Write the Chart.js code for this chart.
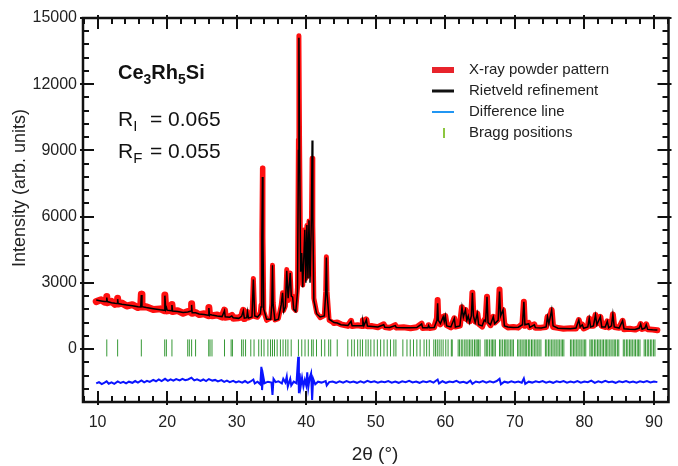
<!DOCTYPE html>
<html>
<head>
<meta charset="utf-8">
<script src="https://cdn.jsdelivr.net/npm/chart.js@4.4.1/dist/chart.umd.min.js"></script>
<style>
  html, body { margin: 0; padding: 0; background: #fff; }
</style>
</head>
<body>
<canvas id="myChart" width="678" height="466"></canvas>
<script>
// 2-theta grid of the measured / calculated pattern
let twoTheta = [
  9.8, 10.5, 11.0, 11.25, 11.32, 11.4, 12.0, 12.5, 12.8, 12.88,
  12.96, 13.5, 14.2, 15.0, 15.8, 16.2, 16.29, 16.38, 17.0, 18.0,
  19.0, 19.55, 19.67, 19.8, 19.9, 20.0, 20.6, 20.69, 20.78, 21.5,
  22.3, 22.96, 23.2, 23.45, 23.52, 23.6, 24.09, 24.6, 25.3, 25.9,
  26.0, 26.1, 26.17, 26.45, 27.2, 27.9, 28.25, 28.35, 29.0, 29.3,
  29.5, 30.3, 30.71, 30.95, 31.1, 31.45, 31.55, 31.7, 32.2, 32.4,
  32.6, 33.0, 33.4, 33.5, 33.62, 33.7, 33.78, 33.9, 34.3, 34.9,
  35.05, 35.15, 35.25, 35.5, 36.0, 36.4, 36.6, 36.75, 37.0, 37.2,
  37.4, 37.7, 37.85, 38.05, 38.2, 38.5, 38.75, 38.88, 38.95, 39.05,
  39.2, 39.35, 39.5, 39.8, 39.95, 40.1, 40.25, 40.4, 40.55, 40.75,
  40.85, 40.95, 41.1, 41.5, 42.0, 42.6, 42.8, 42.9, 43.0, 43.3,
  44.0, 44.46, 45.0, 46.0, 46.45, 46.6, 47.4, 48.05, 48.15, 48.3,
  48.65, 48.8, 49.5, 50.3, 51.15, 51.3, 52.0, 52.8, 52.95, 54.0,
  55.0, 55.9, 56.6, 56.75, 57.5, 57.6, 57.75, 58.4, 58.8, 58.9,
  59.0, 59.3, 59.7, 59.85, 60.0, 60.2, 60.8, 61.3, 61.45, 62.1,
  62.4, 62.6, 62.9, 63.1, 63.3, 63.5, 63.75, 63.9, 64.05, 64.3,
  64.6, 64.8, 65.3, 65.6, 65.8, 66.0, 66.15, 66.5, 66.9, 67.1,
  67.6, 67.8, 67.95, 68.3, 68.5, 69.0, 69.8, 70.5, 71.1, 71.3,
  71.45, 72.0, 72.15, 72.8, 72.95, 73.8, 74.5, 74.7, 74.9, 75.3,
  75.5, 76.2, 77.0, 78.0, 78.8, 79.2, 79.4, 79.7, 79.9, 80.5,
  80.7, 80.9, 81.3, 81.6, 81.8, 82.3, 82.5, 83.0, 83.3, 83.5,
  83.9, 84.1, 84.3, 85.0, 85.5, 85.7, 86.5, 87.3, 87.9, 88.1,
  88.3, 88.7, 88.9, 89.1, 89.8, 90.5
];
// X-ray powder pattern (observed)
let observed = [
  2150, 2230, 2120, 2150, 2380, 2100, 2160, 2020, 2070, 2300,
  2040, 2080, 1950, 2010, 1880, 1940, 2480, 1900, 1920, 1790,
  1820, 1740, 2450, 1830, 1900, 1730, 1760, 2020, 1700, 1740,
  1620, 1700, 1690, 1730, 2050, 1620, 1660, 1560, 1600, 1510,
  1880, 1540, 1570, 1510, 1540, 1450, 1760, 1440, 1470, 1520,
  1400, 1420, 1460, 1750, 1380, 1400, 1700, 1410, 1480, 3200,
  1470, 1440, 1650, 2000, 5200, 8200, 5100, 1700, 1300, 1400,
  2050, 3800, 2100, 1320, 1380, 1980, 2550, 1750, 1950, 3600,
  2200, 3450, 2300, 2400, 1850, 1750, 2800, 9500, 14200, 9200,
  3700, 4350, 2900, 5400, 3200, 5600, 3300, 5800, 3400, 5800,
  8650, 5600, 2300, 1650, 1420, 1520, 2600, 4180, 2600, 1300,
  1180, 1200, 1120, 1050, 1280, 1040, 1080, 1040, 1300, 1050,
  1340, 1030, 1040, 990, 1120, 1000, 960, 1080, 970, 990,
  940, 990, 1150, 950, 970, 1080, 950, 990, 1400, 2220,
  1350, 1120, 1460, 1250, 1500, 1080, 980, 1390, 1020, 1060,
  1890, 1400, 1770, 1350, 1500, 1250, 1550, 2550, 1450, 1250,
  1620, 1150, 1020, 1310, 1300, 2370, 1250, 1080, 1460, 1200,
  1350, 2700, 1550, 1770, 1100, 980, 1000, 970, 1150, 2140,
  1050, 1180, 990, 1120, 960, 970, 1000, 1460, 1200, 1770,
  1000, 960, 920, 940, 930, 1310, 1050, 1100, 930, 1020,
  1390, 1050, 1050, 1540, 1150, 1460, 1050, 1000, 1250, 980,
  1050, 1570, 1000, 960, 1280, 900, 920, 880, 960, 1130,
  910, 950, 1120, 900, 880, 850
];
// Rietveld refinement (calculated)
let calculated = [
  2220, 2180, 2150, 2150, 2330, 2150, 2100, 2070, 2060, 2260,
  2060, 2030, 2000, 1960, 1920, 1910, 2450, 1920, 1880, 1830,
  1780, 1760, 2420, 1800, 1880, 1760, 1730, 1990, 1720, 1700,
  1660, 1680, 1700, 1720, 2000, 1640, 1640, 1590, 1560, 1530,
  1860, 1530, 1560, 1540, 1500, 1470, 1740, 1460, 1440, 1500,
  1420, 1390, 1480, 1730, 1400, 1420, 1690, 1400, 1450, 3150,
  1500, 1450, 1600, 1900, 5000, 7800, 4800, 1800, 1350, 1350,
  2000, 3800, 2000, 1300, 1350, 2000, 2550, 1700, 1900, 3550,
  2300, 3440, 2400, 2350, 1800, 1700, 2600, 9000, 14100, 9000,
  3500, 4350, 2800, 5400, 3000, 5620, 3200, 5840, 3000, 6000,
  9450, 6000, 2200, 1600, 1450, 1500, 2500, 4150, 2500, 1350,
  1200, 1180, 1100, 1070, 1260, 1060, 1060, 1050, 1280, 1060,
  1320, 1040, 1020, 1000, 1100, 990, 980, 1060, 980, 970,
  960, 970, 1130, 960, 960, 1060, 960, 970, 1300, 2070,
  1300, 1150, 1460, 1250, 1500, 1050, 1000, 1390, 1000, 1050,
  1890, 1450, 1770, 1300, 1500, 1200, 1500, 2550, 1500, 1200,
  1620, 1100, 1050, 1310, 1250, 2370, 1200, 1100, 1460, 1150,
  1300, 2600, 1500, 1770, 1050, 1000, 980, 990, 1100, 2140,
  1100, 1150, 980, 1100, 970, 950, 1000, 1460, 1150, 1770,
  1050, 940, 930, 920, 950, 1310, 1000, 1100, 940, 1000,
  1390, 1000, 1050, 1540, 1100, 1460, 1000, 1000, 1250, 960,
  1050, 1570, 1000, 950, 1280, 920, 900, 890, 950, 1130,
  900, 950, 1100, 890, 870, 860
];
// Difference line (shifted below zero)
let diffTheta = [
  9.8, 10.2, 10.6, 11.0, 11.3, 11.6, 12.0, 12.4, 12.9, 13.3,
  13.7, 14.1, 14.5, 15.0, 15.4, 15.8, 16.3, 16.7, 17.1, 17.5,
  18.0, 18.4, 18.8, 19.2, 19.7, 20.1, 20.5, 20.9, 21.3, 21.8,
  22.2, 22.6, 23.0, 23.5, 23.9, 24.3, 24.8, 25.2, 25.6, 26.0,
  26.5, 26.9, 27.3, 27.8, 28.2, 28.6, 29.0, 29.5, 29.9, 30.3,
  30.8, 31.2, 31.6, 32.0, 32.4, 32.6, 33.0, 33.4, 33.55, 33.65,
  33.8, 34.0, 34.5, 35.0, 35.15, 35.3, 35.6, 36.0, 36.5, 36.7,
  37.0, 37.2, 37.35, 37.7, 37.85, 38.2, 38.6, 38.85, 38.95, 39.05,
  39.2, 39.4, 39.6, 39.8, 40.0, 40.15, 40.3, 40.5, 40.7, 40.85,
  41.0, 41.3, 41.7, 42.2, 42.8, 42.95, 43.3, 43.8, 44.3, 44.8,
  45.3, 45.8, 46.3, 46.8, 47.3, 47.8, 48.3, 48.8, 49.3, 49.8,
  50.3, 50.8, 51.3, 51.8, 52.3, 52.8, 53.3, 53.8, 54.3, 54.8,
  55.3, 55.8, 56.3, 56.8, 57.3, 57.8, 58.3, 58.9, 59.1, 59.6,
  60.1, 60.6, 61.1, 61.6, 62.1, 62.6, 63.1, 63.6, 63.9, 64.4,
  64.9, 65.4, 65.9, 66.4, 66.9, 67.4, 67.8, 68.0, 68.5, 69.0,
  69.5, 70.0, 70.5, 71.0, 71.3, 71.5, 72.0, 72.5, 73.0, 73.5,
  74.0, 74.5, 75.0, 75.5, 76.0, 76.5, 77.0, 77.5, 78.0, 78.5,
  79.0, 79.5, 80.0, 80.5, 81.0, 81.5, 82.0, 82.5, 83.0, 83.5,
  84.0, 84.5, 85.0, 85.5, 86.0, 86.5, 87.0, 87.5, 88.0, 88.5,
  89.0, 89.5, 90.0, 90.5
];
let difference = [
  -1560, -1500, -1590, -1520, -1460, -1570, -1510, -1580, -1470, -1540,
  -1490, -1560, -1480, -1530, -1450, -1520, -1420, -1510, -1440, -1490,
  -1400, -1460, -1380, -1450, -1350, -1440, -1370, -1430, -1360, -1420,
  -1350, -1410, -1380, -1300, -1420, -1370, -1440, -1380, -1450, -1360,
  -1430, -1400, -1470, -1410, -1490, -1430, -1500, -1440, -1510, -1460,
  -1520, -1450, -1530, -1470, -1380, -1560, -1480, -1600, -800, -1860,
  -1200, -1550, -1480, -1520, -2080, -1350, -1500, -1460, -1560, -1350,
  -1520, -1250, -1700, -1350, -1650, -1480, -1550, -350, -2000, -1100,
  -1700, -1300, -1700, -1400, -1650, -1050, -1750, -1300, -1100, -2310,
  -1350, -1600, -1480, -1520, -1450, -1650, -1500, -1470, -1530, -1460,
  -1520, -1450, -1510, -1470, -1530, -1460, -1520, -1440, -1500, -1460,
  -1520, -1470, -1500, -1450, -1520, -1470, -1530, -1460, -1500, -1440,
  -1510, -1470, -1530, -1460, -1500, -1450, -1520, -1380, -1560, -1460,
  -1530, -1470, -1500, -1440, -1520, -1480, -1540, -1430, -1580, -1470,
  -1510, -1450, -1520, -1460, -1510, -1450, -1350, -1600, -1480, -1520,
  -1460, -1510, -1470, -1530, -1330, -1580, -1480, -1520, -1460, -1500,
  -1450, -1520, -1470, -1530, -1460, -1500, -1450, -1520, -1470, -1510,
  -1450, -1520, -1470, -1500, -1430, -1530, -1460, -1510, -1440, -1500,
  -1470, -1530, -1460, -1500, -1450, -1510, -1470, -1520, -1460, -1500,
  -1450, -1510, -1470, -1500
];
// Bragg positions
let braggTheta = [
  11.32, 12.88, 16.29, 19.65, 19.89, 20.69, 22.96, 23.19, 23.52, 24.09,
  25.98, 26.17, 26.45, 28.25, 29.2, 29.39, 30.71, 30.95, 31.28, 32.03,
  32.5, 33.17, 33.55, 33.93, 34.49, 34.87, 35.15, 35.44, 35.82, 36.29,
  36.67, 37.05, 37.37, 37.84, 38.88, 39.36, 39.83, 40.3, 40.78, 41.01,
  41.48, 42.19, 42.67, 43.23, 43.52, 44.46, 45.98, 46.54, 46.92, 47.4,
  47.77, 48.1, 48.58, 48.91, 49.29, 49.76, 50.23, 50.7, 51.18, 51.65,
  52.12, 52.6, 52.9, 53.9, 54.49, 54.96, 55.43, 55.91, 56.38, 56.95,
  57.32, 57.7, 58.35, 58.6, 58.85, 59.12, 59.4, 59.69, 60.07, 60.4,
  60.87, 61.0, 61.85, 62.05, 62.3, 62.52, 62.8, 63.0, 63.25, 63.47,
  63.7, 63.94, 64.2, 64.42, 64.6, 64.79, 65.0, 65.7, 65.9, 66.1,
  66.35, 66.6, 66.8, 67.0, 67.2, 67.8, 68.0, 68.25, 68.5, 68.7,
  68.9, 69.15, 69.4, 69.6, 69.8, 70.4, 70.6, 70.85, 71.05, 71.3,
  71.5, 71.7, 71.95, 72.15, 72.4, 72.6, 72.85, 73.05, 73.3, 73.5,
  73.75, 74.4, 74.6, 74.85, 75.05, 75.3, 75.5, 75.75, 75.95, 76.2,
  76.4, 76.65, 76.85, 77.05, 78.0, 78.2, 78.45, 78.65, 78.9, 79.1,
  79.35, 79.55, 79.8, 80.0, 80.2, 80.8, 81.0, 81.2, 81.45, 81.65,
  81.9, 82.1, 82.3, 82.55, 82.75, 83.0, 83.2, 83.4, 83.65, 83.85,
  84.1, 84.3, 84.5, 84.75, 84.95, 85.6, 85.8, 86.05, 86.25, 86.5,
  86.7, 86.9, 87.15, 87.35, 87.6, 87.8, 88.0, 88.6, 88.8, 89.05,
  89.25, 89.5, 89.7, 89.95, 90.15
];
let braggLevel = 50;

let xTicks = [10, 20, 30, 40, 50, 60, 70, 80, 90];
let yTicks = [0, 3000, 6000, 9000, 12000, 15000];

const FONT = '"Liberation Sans", Arial, Helvetica, sans-serif';

function pairs(xs, ys) {
  return xs.map((v, i) => ({ x: v, y: ys[i] }));
}

function drawRuns(ctx, x, y, runs) {
  // runs: [text, font, dy]
  for (const [t, f, dy] of runs) {
    ctx.font = f;
    ctx.fillText(t, x, y + dy);
    x += ctx.measureText(t).width;
  }
  return x;
}

const decorations = {
  id: 'decorations',
  afterDraw(chart) {
    const { ctx, chartArea: a } = chart;
    const sx = chart.scales.x, sy = chart.scales.y;
    ctx.save();

    // inside ticks on all four sides
    ctx.strokeStyle = '#111';
    ctx.lineWidth = 2;
    ctx.beginPath();
    for (let v = 8; v <= 92; v += 2) {
      const px = Math.round(sx.getPixelForValue(v));
      const major = v % 10 === 0;
      const len = major ? 11 : 6, out = major ? 3 : 0;
      ctx.moveTo(px, a.bottom + out); ctx.lineTo(px, a.bottom - len);
      ctx.moveTo(px, a.top - out); ctx.lineTo(px, a.top + len);
    }
    for (let v = -2400; v <= 15000; v += 600) {
      const py = Math.round(sy.getPixelForValue(v));
      const major = v % 3000 === 0;
      const len = major ? 11 : 6, out = major ? 3 : 0;
      ctx.moveTo(a.left - out, py); ctx.lineTo(a.left + len, py);
      ctx.moveTo(a.right + out, py); ctx.lineTo(a.right - len, py);
    }
    ctx.stroke();

    // frame
    ctx.lineWidth = 2.5;
    ctx.strokeRect(a.left, a.top, a.right - a.left, a.bottom - a.top);

    // axis titles
    ctx.fillStyle = '#222';
    ctx.textBaseline = 'middle';
    ctx.textAlign = 'center';
    ctx.font = '19px ' + FONT;
    ctx.fillText('2\u03B8 (\u00B0)', 375, 455);
    ctx.save();
    ctx.translate(20, 188);
    ctx.rotate(-Math.PI / 2);
    ctx.font = '18px ' + FONT;
    ctx.fillText('Intensity (arb. units)', 0, 0);
    ctx.restore();

    // legend
    ctx.textAlign = 'left';
    ctx.font = '15px ' + FONT;
    const lx = 432, tx = 469;
    const rows = [70, 91, 112, 133];
    ctx.fillStyle = '#e8232b';
    ctx.fillRect(lx, rows[0] - 3, 22, 6);
    ctx.strokeStyle = '#111';
    ctx.lineWidth = 3;
    ctx.beginPath(); ctx.moveTo(lx, rows[1]); ctx.lineTo(lx + 22, rows[1]); ctx.stroke();
    ctx.strokeStyle = '#2196f3';
    ctx.lineWidth = 2;
    ctx.beginPath(); ctx.moveTo(lx, rows[2]); ctx.lineTo(lx + 22, rows[2]); ctx.stroke();
    ctx.strokeStyle = '#8cc63f';
    ctx.lineWidth = 2;
    ctx.beginPath(); ctx.moveTo(lx + 12, rows[3] - 5); ctx.lineTo(lx + 12, rows[3] + 5); ctx.stroke();
    ctx.fillStyle = '#222';
    ['X-ray powder pattern', 'Rietveld refinement', 'Difference line', 'Bragg positions']
      .forEach((t, i) => ctx.fillText(t, tx, rows[i]));

    // compound and R factors
    ctx.textBaseline = 'alphabetic';
    ctx.fillStyle = '#111';
    const b = 'bold 20px ' + FONT, bs = 'bold 14px ' + FONT;
    drawRuns(ctx, 118, 79, [['Ce', b, 0], ['3', bs, 5], ['Rh', b, 0], ['5', bs, 5], ['Si', b, 0]]);
    const r = '21px ' + FONT, rs = '15px ' + FONT;
    drawRuns(ctx, 118, 126, [['R', r, 0], ['I', rs, 5]]);
    drawRuns(ctx, 150, 126, [['= 0.065', r, 0]]);
    drawRuns(ctx, 118, 158, [['R', r, 0], ['F', rs, 5]]);
    drawRuns(ctx, 150, 158, [['= 0.055', r, 0]]);

    ctx.restore();
  }
};

const ctx = document.getElementById('myChart');
const myChart = new Chart(ctx, {
  type: 'scatter',
  data: {
    datasets: [
      {
        label: 'Rietveld refinement',
        data: pairs(twoTheta, calculated),
        showLine: true,
        borderColor: '#000',
        borderWidth: 1.5,
        pointRadius: 0,
        order: 0
      },
      {
        label: 'X-ray powder pattern',
        data: pairs(twoTheta, observed),
        showLine: true,
        borderColor: '#ff1010',
        borderWidth: 5,
        borderJoinStyle: 'round',
        borderCapStyle: 'round',
        segment: {
          borderWidth: c => (c.p0.parsed.x < 31 ? 7 : c.p0.parsed.x < 44 ? 5 : 6)
        },
        pointRadius: 0,
        order: 1
      },
      {
        label: 'Difference line',
        data: pairs(diffTheta, difference),
        showLine: true,
        borderColor: '#0a14ff',
        borderWidth: 2,
        pointRadius: 0,
        order: 2
      },
      {
        label: 'Bragg positions',
        data: braggTheta.map(t => ({ x: t, y: braggLevel })),
        showLine: false,
        pointStyle: 'line',
        rotation: 90,
        pointRadius: 8.5,
        borderColor: 'rgba(20,135,20,0.85)',
        borderWidth: 1,
        order: 3
      }
    ]
  },
  options: {
    responsive: false,
    animation: false,
    layout: { padding: { top: 18, right: 1, left: 0, bottom: 0 } },
    plugins: { legend: { display: false }, tooltip: { enabled: false } },
    scales: {
      x: {
        type: 'linear',
        min: 7.9,
        max: 92.1,
        grid: { display: false, drawTicks: false },
        border: { display: false },
        afterBuildTicks: s => { s.ticks = xTicks.map(v => ({ value: v })); },
        afterFit: s => { s.height = 64; },
        ticks: { padding: 11, color: '#222', font: { family: FONT, size: 16 }, maxRotation: 0,
                 callback: v => String(v) }
      },
      y: {
        type: 'linear',
        min: -2400,
        max: 15000,
        grid: { display: false, drawTicks: false },
        border: { display: false },
        afterBuildTicks: s => { s.ticks = yTicks.map(v => ({ value: v })); },
        afterFit: s => { s.width = 83; },
        ticks: { padding: 6, color: '#222', font: { family: FONT, size: 16 },
                 callback: v => String(v) }
      }
    }
  },
  plugins: [decorations]
});
</script>
</body>
</html>
